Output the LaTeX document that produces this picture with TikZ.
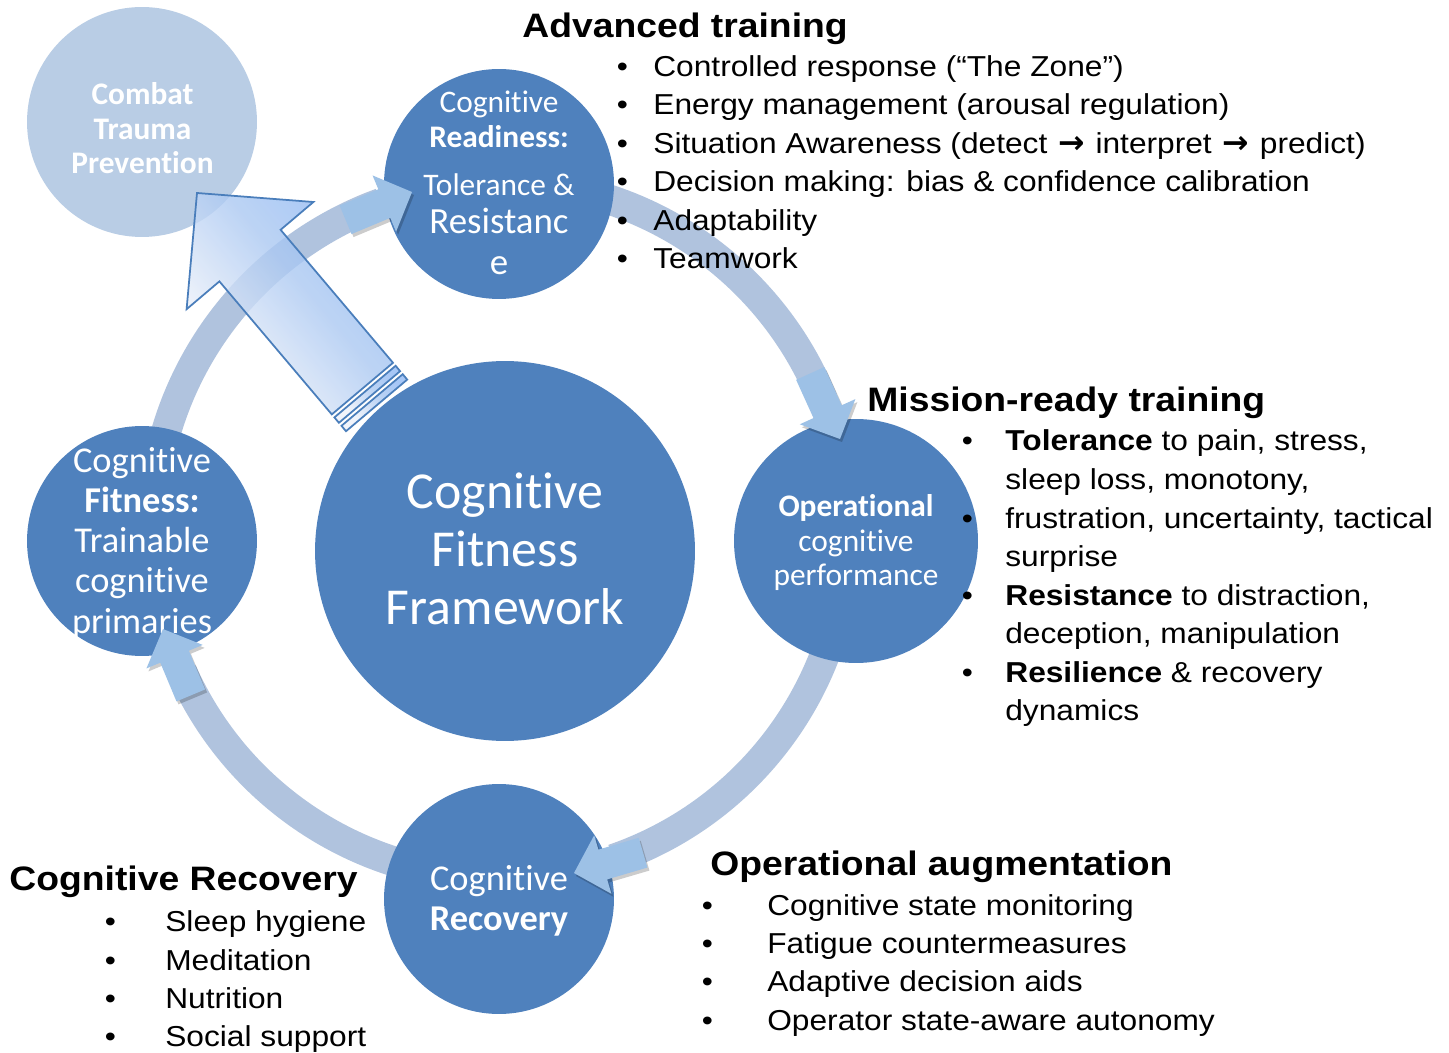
\documentclass[tikz,border=0pt]{standalone}
\usepackage{fontspec}
\setmainfont{Liberation Sans}[FakeStretch=1.1]
\newfontfamily\calfont{Carlito}[Ligatures=CommonOff]
\newfontfamily\arrfont{DejaVu Sans}
\usetikzlibrary{calc}

\definecolor{nodeblue}{RGB}{79,129,189}
\definecolor{palecirc}{RGB}{185,205,229}
\definecolor{bandcol}{RGB}{176,195,222}
\definecolor{headcol}{RGB}{157,193,230}
\definecolor{bigedge}{RGB}{74,126,187}
\definecolor{bigdark}{RGB}{145,185,244}
\definecolor{bigmid}{RGB}{172,201,242}
\definecolor{biglight}{RGB}{238,242,250}

% gradient of the large arrow, light on its left flank
\pgfdeclarehorizontalshading{bigshade}{100bp}{color(0bp)=(biglight); color(30bp)=(biglight); color(55bp)=(bigmid); color(75bp)=(bigdark); color(100bp)=(bigdark)}

% one drawing unit
\newlength{\pxu}\setlength{\pxu}{0.02cm}
% bullet hung to the left of a list line
\newcommand{\blt}[1]{\llap{\makebox[0pt]{\textbullet}\hspace{#1\pxu}}}
\newcommand{\rarr}{\hspace{2\pxu}{\arrfont\bfseries\fontsize{18pt}{20pt}\selectfont →}\hspace{2\pxu}}
\newcommand{\lstfnt}{\fontsize{16.4pt}{21.8pt}\selectfont}
\newcommand{\ttlfnt}{\fontsize{19.3pt}{23pt}\selectfont\bfseries}
\newcommand{\calS}{\calfont\fontsize{17.86pt}{19.6pt}\selectfont}
\newcommand{\calM}{\calfont\fontsize{20.7pt}{22.7pt}\selectfont}
\newcommand{\calR}{\calfont\fontsize{21pt}{23.2pt}\selectfont}
\newcommand{\calL}{\calfont\fontsize{29.5pt}{32.6pt}\selectfont}

% block arrow head on the ring: tip at (#1,-#2), pointing at angle #3
\newcommand{\ringhead}[3]{%
  \begin{scope}[shift={(#1+2,-#2-3)}, rotate=#3]
    \fill[black, opacity=0.2] (0,0) -- (-30,30.5) -- (-30,15.5) -- (-72,15.5)
      -- (-72,-15.5) -- (-30,-15.5) -- (-30,-30.5) -- cycle;
  \end{scope}
  \begin{scope}[shift={(#1,-#2)}, rotate=#3]
    \fill[headcol] (0,0) -- (-30,30.5) -- (-30,15.5) -- (-72,15.5)
      -- (-72,-15.5) -- (-30,-15.5) -- (-30,-30.5) -- cycle;
  \end{scope}}

\tikzset{
  disc/.style={circle, fill=nodeblue, inner sep=0pt},
  band/.style={draw=bandcol, line width=30\pxu},
  lst/.style={anchor=base west, inner sep=0pt, font=\lstfnt},
  ttl/.style={anchor=base west, inner sep=0pt, font=\ttlfnt},
  lbl/.style={anchor=base, inner sep=0pt, text=white},
  bigarrow/.style={draw=bigedge, line width=1pt, shading=bigshade,
    shading angle=40, fill opacity=0.8},
}

\begin{document}
\begin{tikzpicture}[x=0.02cm, y=0.02cm]
\useasboundingbox (0,0) rectangle (1449,-1053);
\fill[white] (0,0) rectangle (1449,-1053);

% outcome disc
\node[circle, fill=palecirc, inner sep=0pt, minimum size=4.6cm] (combat) at (142,-122) {};

% ring of the cycle
\coordinate (ring) at (500,-530);
\draw[band] ([shift={(180:348)}]ring) arc[start angle=180, end angle=110, radius=348];
\draw[band] ([shift={(85:348)}]ring) arc[start angle=85, end angle=22, radius=348];
\draw[band] ([shift={(0:348)}]ring) arc[start angle=0, end angle=-71, radius=348];
\draw[band] ([shift={(-95:348)}]ring) arc[start angle=-95, end angle=-156, radius=348];

% discs
\node[disc, minimum size=7.6cm] (core) at (505,-551) {};
\node[disc, minimum size=4.6cm] (ready) at (499,-184) {};
\node[disc, minimum size=4.88cm] (oper) at (856,-541) {};
\node[disc, minimum size=4.6cm] (recov) at (499,-899) {};
\node[disc, minimum size=4.6cm] (fit) at (142,-541) {};

% disc labels
\node[lbl, font=\calS\bfseries] (c1) at (142.5,-105) {Combat};
\node[lbl, font=\calS\bfseries] (c2) at (142.5,-140) {Trauma};
\node[lbl, font=\calS\bfseries] (c3) at (142.5,-174) {Prevention};

\node[lbl, font=\calS] (r1) at (499,-113) {Cognitive};
\node[lbl, font=\calS\bfseries] (r2) at (499,-148) {Readiness:};
\node[lbl, font=\calS] (r3) at (499,-196) {Tolerance \&};
\node[lbl, font=\calR] (r4) at (499,-234) {Resistanc};
\node[lbl, font=\calR] (r5) at (499,-275) {e};

\node[lbl, font=\calL] (k1) at (505,-509) {Cognitive};
\node[lbl, font=\calL] (k2) at (505,-566.5) {Fitness};
\node[lbl, font=\calL] (k3) at (505,-624) {Framework};

\node[lbl, font=\calM] (f1) at (142,-472.5) {Cognitive};
\node[lbl, font=\calM\bfseries] (f2) at (142,-512.5) {Fitness:};
\node[lbl, font=\calM] (f3) at (142,-552.5) {Trainable};
\node[lbl, font=\calM] (f4) at (142,-592.5) {cognitive};
\node[lbl, font=\calM] (f5) at (142,-633) {primaries};

\node[lbl, font=\calS\bfseries] (o1) at (856,-517) {Operational};
\node[lbl, font=\calS] (o2) at (856,-551) {cognitive};
\node[lbl, font=\calS] (o3) at (856,-585) {performance};

\node[lbl, font=\calM] (v1) at (499,-890) {Cognitive};
\node[lbl, font=\calM\bfseries] (v2) at (499,-930) {Recovery};

% arrow heads of the ring
\ringhead{412}{192}{22.7}
\ringhead{840}{439}{-65.6}
\ringhead{574}{873}{-163.6}
\ringhead{163}{629}{112.7}

% large arrow toward the outcome disc
\path[bigarrow] (197,-193) -- (313.4,-202) -- (280.6,-229.8) -- (393,-362.8)
  -- (331.8,-414.4) -- (219.4,-281.4) -- (186.6,-309.2) -- cycle;
\path[bigarrow] (395.6,-365.8) -- (400.1,-371.2) -- (338.9,-422.8) -- (334.4,-417.4) -- cycle;
\path[bigarrow] (402.7,-374.2) -- (407.2,-379.6) -- (346,-431.2) -- (341.5,-425.8) -- cycle;

% headings
\node[ttl] (advT) at (522,-37.5) {Advanced training};
\node[ttl] (misT) at (867,-411.5) {Mission-ready training};
\node[ttl] (recT) at (9,-890) {Cognitive Recovery};
\node[ttl] (augT) at (710,-875) {Operational augmentation};

% advanced training
\node[lst] (a1) at (653,-76.5) {\blt{31}Controlled response (“The Zone”)};
\node[lst] (a2) at (653,-115) {\blt{31}Energy management (arousal regulation)};
\node[lst] (a3) at (653,-153.5) {\blt{31}Situation Awareness (detect \rarr{} interpret \rarr{} predict)};
\node[lst] (a4) at (653,-192) {\blt{31}Decision making: bias \& confidence calibration};
\node[lst] (a5) at (653,-230.5) {\blt{31}Adaptability};
\node[lst] (a6) at (653,-269) {\blt{31}Teamwork};

% mission-ready training
\node[lst] (m1) at (1005,-451) {\blt{38}\textbf{Tolerance} to pain, stress,};
\node[lst] (m2) at (1005,-489.5) {sleep loss, monotony,};
\node[lst] (m3) at (1005,-528) {\blt{38}frustration, uncertainty, tactical};
\node[lst] (m4) at (1005,-566.5) {surprise};
\node[lst] (m5) at (1005,-605) {\blt{38}\textbf{Resistance} to distraction,};
\node[lst] (m6) at (1005,-643.5) {deception, manipulation};
\node[lst] (m7) at (1005,-682) {\blt{38}\textbf{Resilience} \& recovery};
\node[lst] (m8) at (1005,-720.5) {dynamics};

% cognitive recovery
\node[lst] (s1) at (165,-931.5) {\blt{55}Sleep hygiene};
\node[lst] (s2) at (165,-970) {\blt{55}Meditation};
\node[lst] (s3) at (165,-1008) {\blt{55}Nutrition};
\node[lst] (s4) at (165,-1046) {\blt{55}Social support};

% operational augmentation
\node[lst] (g1) at (767,-915) {\blt{60}Cognitive state monitoring};
\node[lst] (g2) at (767,-953.5) {\blt{60}Fatigue countermeasures};
\node[lst] (g3) at (767,-991.5) {\blt{60}Adaptive decision aids};
\node[lst] (g4) at (767,-1030) {\blt{60}Operator state-aware autonomy};
\end{tikzpicture}
\end{document}
